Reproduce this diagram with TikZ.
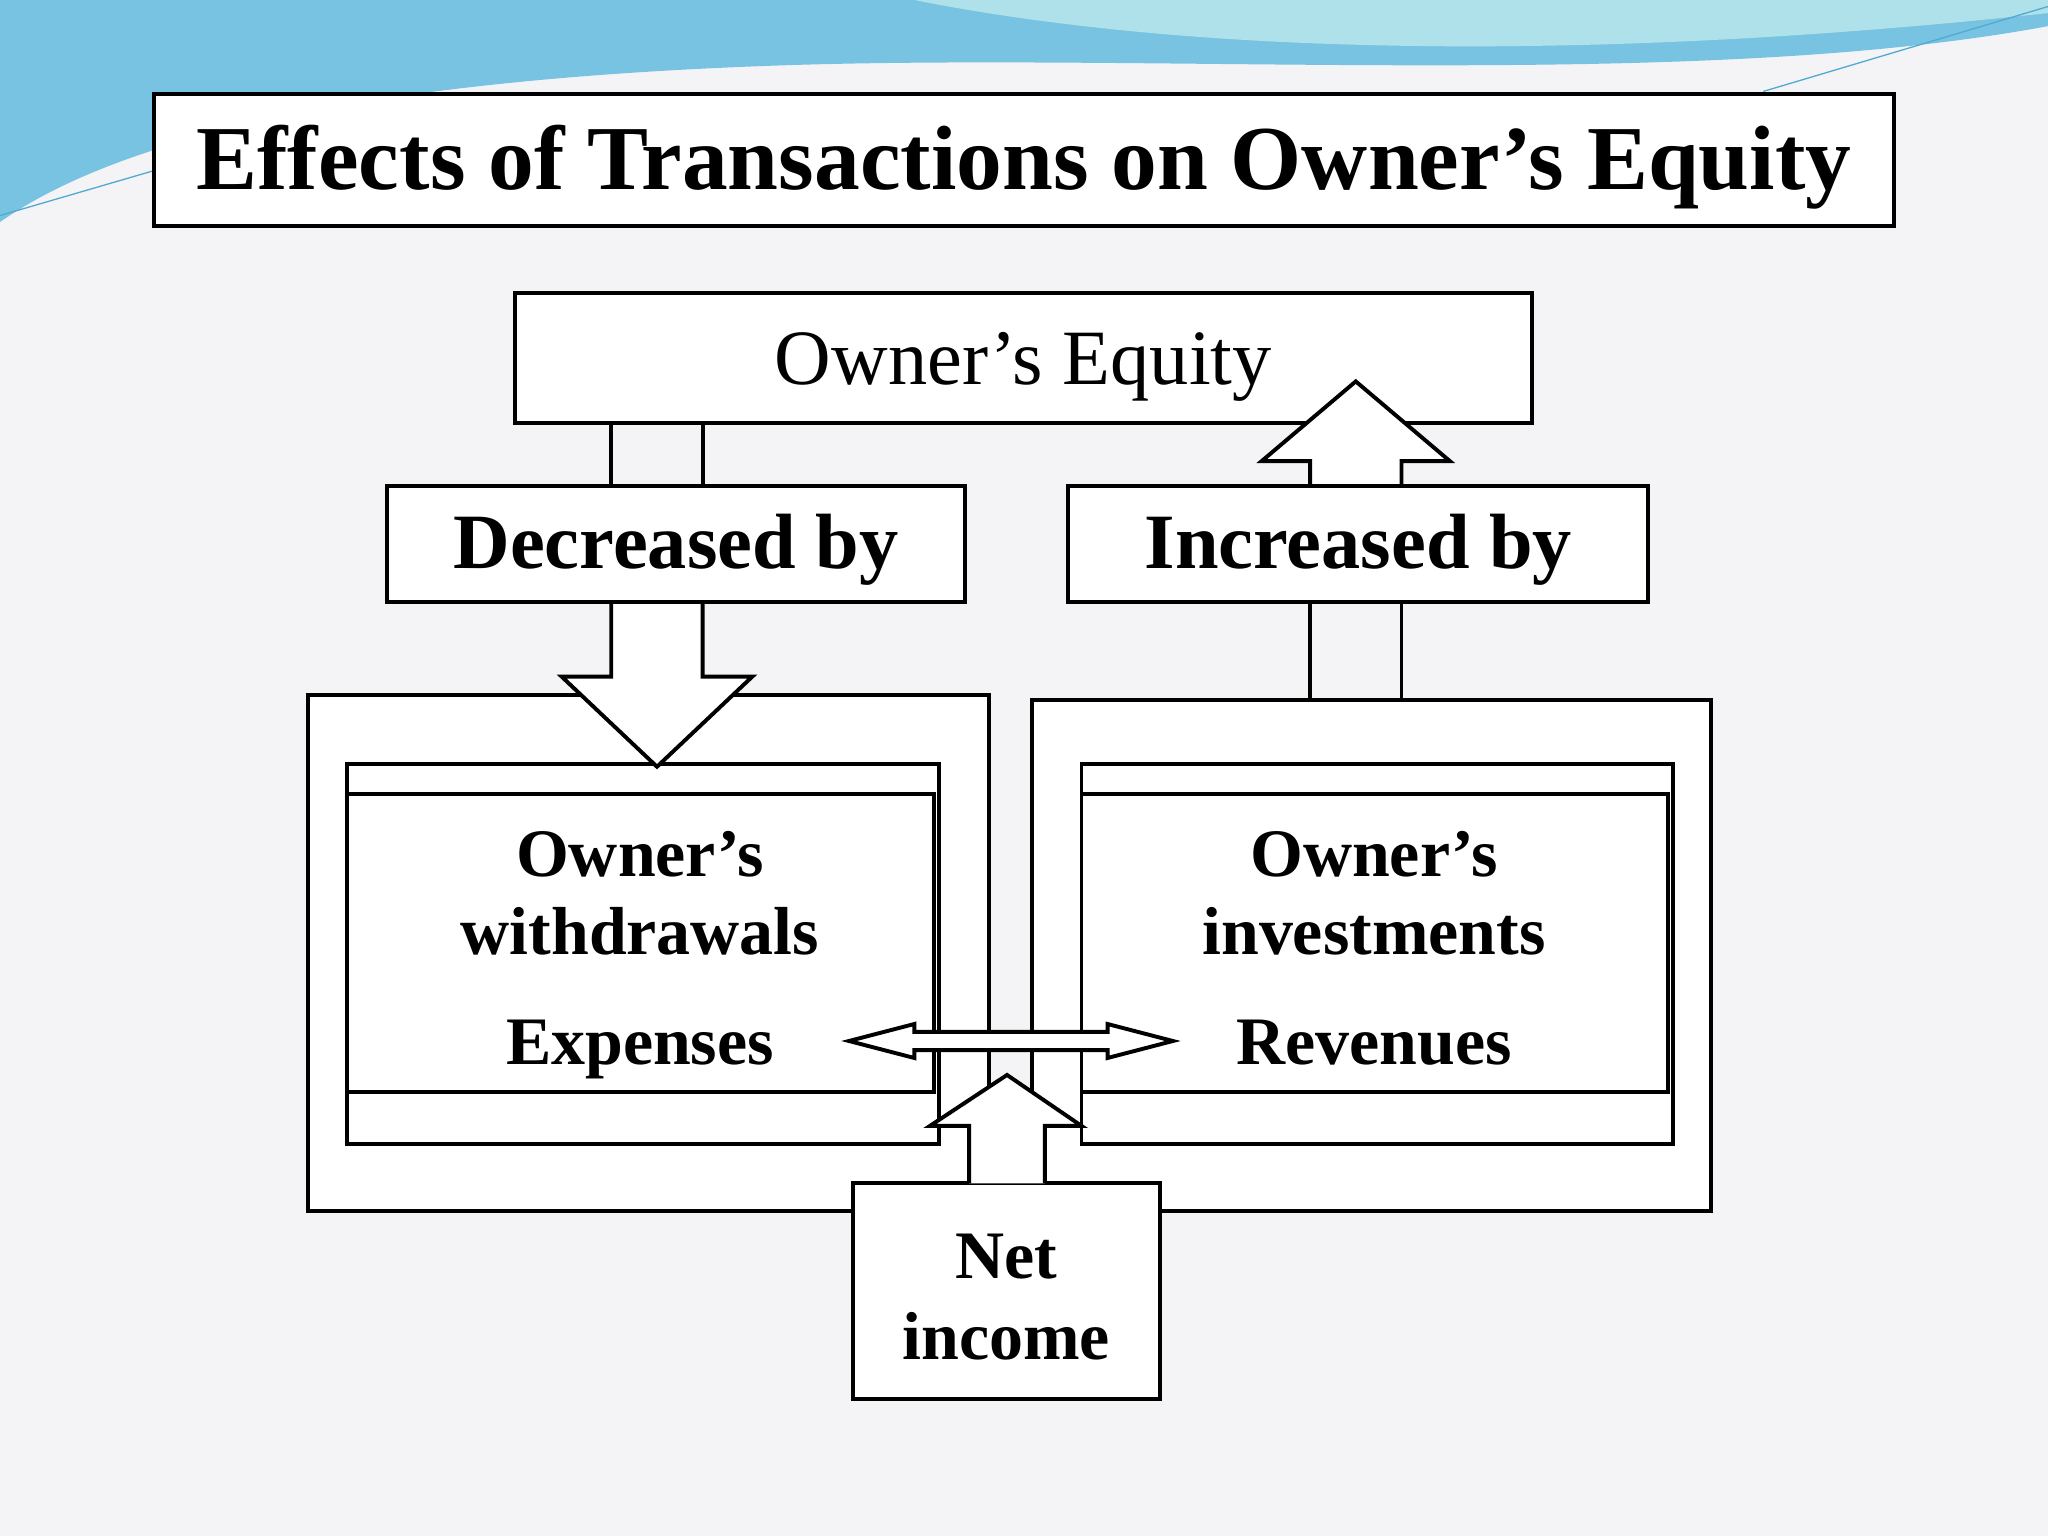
\documentclass[tikz,border=0pt]{standalone}
\usepackage{fontspec}
\setmainfont{Liberation Serif}
\begin{document}
\begin{tikzpicture}[x=1pt,y=-1pt,
  box/.style={draw=black,line width=3pt,fill=white},
  arr/.style={draw=black,line width=3pt,fill=white,line join=miter}]
\useasboundingbox (0,0) rectangle (1568,1176);
\fill[fill={rgb,255:red,244;green,244;blue,247}] (0,0) rectangle (1568,1176);
% decorative top waves
\fill[fill={rgb,255:red,120;green,195;blue,225}] (0,0) -- (1568,0) -- (1568,20) .. controls (1300,70) and (900,40) .. (600,50) .. controls (300,60) and (100,100) .. (0,170) -- cycle;
\fill[fill={rgb,255:red,175;green,225;blue,235}] (700,0) .. controls (900,40) and (1200,50) .. (1568,10) -- (1568,0) -- cycle;
\draw[draw={rgb,255:red,80;green,170;blue,210},line width=1pt] (1350,70) -- (1568,5);
\draw[draw={rgb,255:red,80;green,170;blue,210},line width=1pt] (0,165) -- (120,130);
% title
\draw[box] (118,72) rectangle (1450,173);
\node[font=\fontsize{70}{70}\selectfont\bfseries] (title) at (784,128) {Effects of Transactions on Owner’s Equity};
% outer boxes
\draw[box] (236,532) rectangle (757,927);
\draw[box] (790,536) rectangle (1310,927);
% inner
\draw[box] (266,585) rectangle (719,876);
\draw[box] (266,608) rectangle (715,836);
\draw[box] (828,585) rectangle (1281,876);
\draw[box] (828,608) rectangle (1277,836);
% OE box
\draw[box] (394,224) rectangle (1173,324);
\node[font=\fontsize{60}{60}\selectfont] (oe) at (783.5,281) {Owner’s Equity};
% left down arrow
\draw[arr] (468,324) -- (468,372) (538,324) -- (538,372);
\draw[arr] (468,461) -- (468,518) -- (430,518) -- (503,587) -- (576,518) -- (538,518) -- (538,461);
% right up arrow
\draw[arr] (1003,535) -- (1003,461) (1073,535) -- (1073,461);
\draw[arr] (1003,372) -- (1003,353) -- (966,353) -- (1038,292) -- (1110,353) -- (1073,353) -- (1073,372);
% label boxes
\draw[box] (296,372) rectangle (739,461);
\draw[box] (818,372) rectangle (1262,461);
\node[font=\fontsize{60}{60}\selectfont\bfseries] (dec) at (517.5,421) {Decreased by};
\node[font=\fontsize{60}{60}\selectfont\bfseries] (inc) at (1040,421) {Increased by};
% texts in inner boxes
\node[font=\fontsize{52}{52}\selectfont\bfseries,align=center] (wd) at (490,684) {Owner’s\\[8pt]withdrawals};
\node[font=\fontsize{52}{52}\selectfont\bfseries,anchor=base] (exp) at (490,815) {Expenses};
\node[font=\fontsize{52}{52}\selectfont\bfseries,align=center] (inv) at (1052,684) {Owner’s\\[8pt]investments};
\node[font=\fontsize{52}{52}\selectfont\bfseries,anchor=base] (rev) at (1052,815) {Revenues};
% net income
\draw[box] (653,906) rectangle (888,1071);
\node[font=\fontsize{52}{52}\selectfont\bfseries,align=center] (ni) at (770.5,993) {Net\\[10pt]income};
\draw[arr] (742,906) -- (742,862) -- (712,862) -- (771,823) -- (828,862) -- (800,862) -- (800,906);
% double arrow
\draw[arr] (650,797) -- (700,784) -- (700,790) -- (848,790) -- (848,784) -- (898,797) -- (848,810) -- (848,804) -- (700,804) -- (700,810) -- cycle;
\end{tikzpicture}
\end{document}
